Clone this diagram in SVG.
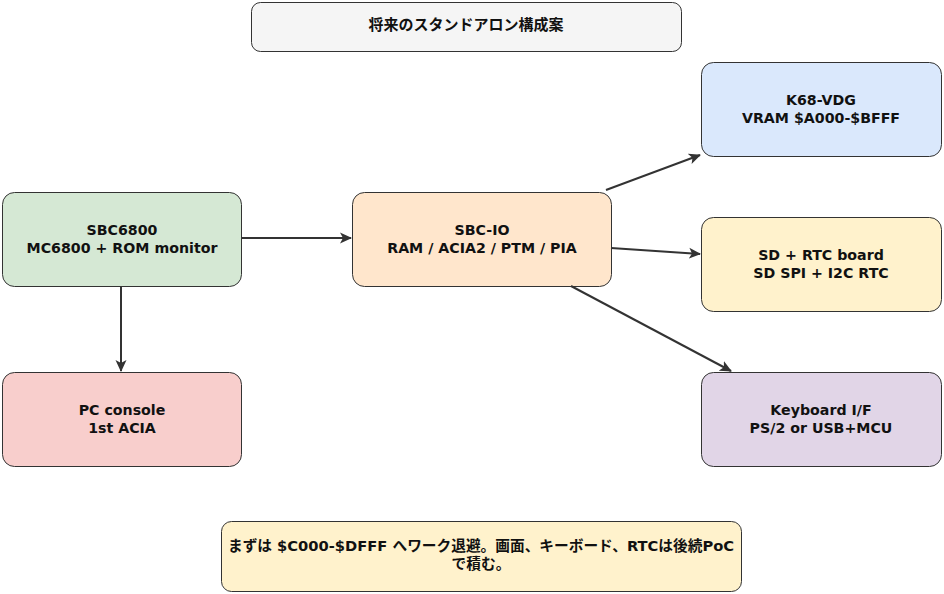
<svg xmlns="http://www.w3.org/2000/svg" width="944" height="594" viewBox="0 0 944 594">
<style>
.box{stroke:#333;stroke-width:1}
.t{font-family:"DejaVu Sans","Noto Sans CJK JP",sans-serif;font-weight:bold;font-size:14.2px;fill:#111;text-anchor:middle}
.e{stroke:#333;stroke-width:2;fill:none;marker-end:url(#ah)}
</style>
<defs>
<marker id="ah" viewBox="0 0 12 12" refX="11" refY="6" markerWidth="12" markerHeight="12" markerUnits="userSpaceOnUse" orient="auto">
<path d="M0,0.5 L12,6 L0,11.5 L3,6 z" fill="#333"/>
</marker>
</defs>
<rect width="944" height="594" fill="#fff"/>
<g id="title"><rect class="box" x="251.5" y="2.5" width="430" height="49" rx="9" fill="#f5f5f5"/><text class="t" x="466" y="30" style="font-size:15px">将来のスタンドアロン構成案</text></g>
<g id="sbc6800"><rect class="box" x="2.5" y="192.5" width="239" height="94" rx="12" fill="#d5e8d4"/><text class="t" x="122" y="235">SBC6800</text><text class="t" x="122" y="253">MC6800 + ROM monitor</text></g>
<g id="sbcio"><rect class="box" x="352.5" y="192.5" width="259" height="94" rx="12" fill="#ffe6cc"/><text class="t" x="482" y="235">SBC-IO</text><text class="t" x="482" y="253">RAM / ACIA2 / PTM / PIA</text></g>
<g id="k68vdg"><rect class="box" x="701.5" y="62.5" width="240" height="94" rx="12" fill="#dae8fc"/><text class="t" x="821" y="105">K68-VDG</text><text class="t" x="821" y="123">VRAM $A000-$BFFF</text></g>
<g id="sdrtc"><rect class="box" x="701.5" y="217.5" width="240" height="94" rx="12" fill="#fff2cc"/><text class="t" x="821" y="260">SD + RTC board</text><text class="t" x="821" y="278">SD SPI + I2C RTC</text></g>
<g id="keyboard"><rect class="box" x="701.5" y="372.5" width="240" height="94" rx="12" fill="#e1d5e7"/><text class="t" x="821" y="415">Keyboard I/F</text><text class="t" x="821" y="433">PS/2 or USB+MCU</text></g>
<g id="pcconsole"><rect class="box" x="2.5" y="372.5" width="239" height="94" rx="12" fill="#f8cecc"/><text class="t" x="122" y="415">PC console</text><text class="t" x="122" y="433">1st ACIA</text></g>
<g id="note"><rect class="box" x="221.5" y="521.5" width="520" height="70" rx="10" fill="#fff2cc"/><text class="t" x="481" y="551" style="font-size:14.7px">まずは $C000-$DFFF へワーク退避。画面、キーボード、RTCは後続PoC</text><text class="t" x="481" y="569" style="font-size:14.7px">で積む。</text></g>
<g id="connectors">
<line class="e" x1="241" y1="238" x2="351" y2="238"/>
<line class="e" x1="121" y1="287" x2="121" y2="371"/>
<line class="e" x1="606" y1="190" x2="700" y2="155"/>
<line class="e" x1="611" y1="248" x2="700" y2="254"/>
<line class="e" x1="571" y1="286" x2="731" y2="371"/>
</g>
</svg>
